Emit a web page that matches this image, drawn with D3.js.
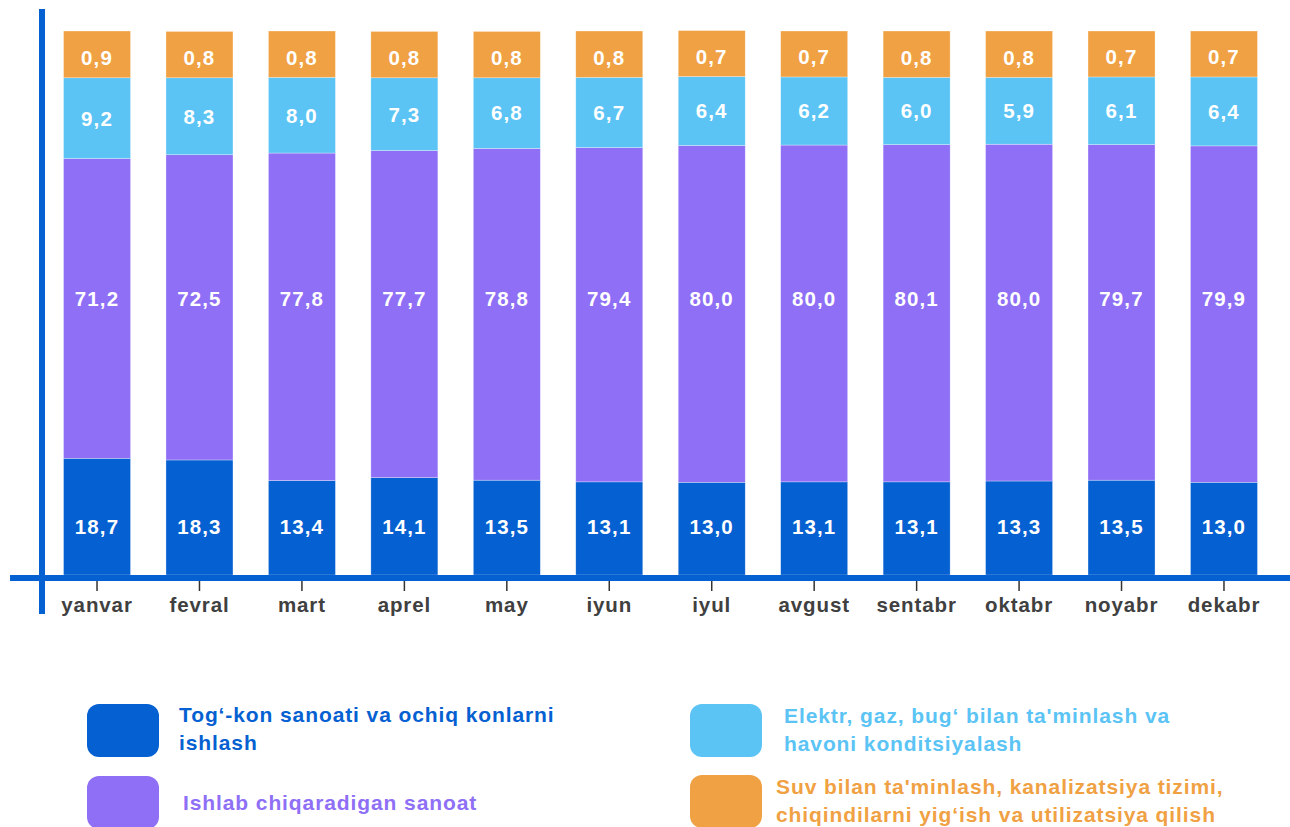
<!DOCTYPE html>
<html>
<head>
<meta charset="utf-8">
<script src="https://cdn.jsdelivr.net/npm/d3@7"></script>
<style>
  html, body { margin: 0; padding: 0; background: #ffffff; }
  svg { display: block; font-family: Arial, "Liberation Sans", sans-serif; }
</style>
</head>
<body>
<svg id="chart" width="1290" height="827"></svg>
<script>
// ---- DATA ----
const months = ["yanvar","fevral","mart","aprel","may","iyun","iyul","avgust","sentabr","oktabr","noyabr","dekabr"];
const mining = [18.7,18.3,13.4,14.1,13.5,13.1,13.0,13.1,13.1,13.3,13.5,13.0];
const manufacturing = [71.2,72.5,77.8,77.7,78.8,79.4,80.0,80.0,80.1,80.0,79.7,79.9];
const electricity = [9.2,8.3,8.0,7.3,6.8,6.7,6.4,6.2,6.0,5.9,6.1,6.4];
const water = [0.9,0.8,0.8,0.8,0.8,0.8,0.7,0.7,0.8,0.8,0.7,0.7];
const seriesNames = [
  ["Tog‘-kon sanoati va ochiq konlarni","ishlash"],
  ["Ishlab chiqaradigan sanoat"],
  ["Elektr, gaz, bug‘ bilan ta'minlash va","havoni konditsiyalash"],
  ["Suv bilan ta'minlash, kanalizatsiya tizimi,","chiqindilarni yig‘ish va utilizatsiya qilish"]
];

// ---- STYLE ----
const colors = ["#0560d1", "#8e6ff5", "#5bc4f5", "#f0a143"];
const seriesValues = [mining, manufacturing, electricity, water];
// small segments get a fixed extra band so their labels fit (as in the reference)
const segPad = [38, 0, 42, 43];
// label placement: "row" = one common row per series (mean of segment centres), "center" = segment centre
const labelMode = ["row", "row", "center", "center"];
const labelShift = [0, -14, 0, 3];

const svg = d3.select("#chart");
const baseY = 575, topY = 31;

const x = d3.scaleBand().domain(months).range([45.8, 1275.2]).paddingInner(0.346).paddingOuter(0.173);
const padTotal = segPad.reduce((a,b)=>a+b,0);
const h = d3.scaleLinear().domain([0, 100]).range([0, (baseY - topY) - padTotal]);

// build stacked segments
const segs = [];
months.forEach((m, i) => {
  let y = baseY;
  seriesValues.forEach((vals, s) => {
    const hh = h(vals[i]) + segPad[s];
    segs.push({ m, s, v: vals[i], y0: y - hh, y1: y });
    y -= hh;
  });
});
const rowY = seriesValues.map((v, s) => d3.mean(segs.filter(d => d.s === s), d => (d.y0 + d.y1) / 2));

svg.append("g").selectAll("rect").data(segs).join("rect")
  .attr("x", d => x(d.m))
  .attr("width", x.bandwidth())
  .attr("y", d => d.y0)
  .attr("height", d => d.y1 - d.y0)
  .attr("fill", d => colors[d.s])
  .attr("stroke", "rgba(255,255,255,0.5)")
  .attr("stroke-width", 0.6);

svg.append("g").selectAll("text").data(segs).join("text")
  .attr("x", d => x(d.m) + x.bandwidth() / 2)
  .attr("y", d => (labelMode[d.s] === "row" ? rowY[d.s] : (d.y0 + d.y1) / 2) + labelShift[d.s])
  .attr("dy", "0.36em")
  .attr("text-anchor", "middle")
  .attr("fill", "#ffffff")
  .attr("font-weight", "bold")
  .attr("font-size", 20.5)
  .attr("letter-spacing", 1.1)
  .text(d => d3.format(".1f")(d.v).replace(".", ","));

// axes lines
svg.append("line").attr("x1", 10).attr("x2", 1290).attr("y1", 578).attr("y2", 578)
  .attr("stroke", "#0560d1").attr("stroke-width", 6);
svg.append("line").attr("x1", 42).attr("x2", 42).attr("y1", 9).attr("y2", 614)
  .attr("stroke", "#0560d1").attr("stroke-width", 6);

// x axis ticks + labels
const xAxis = svg.append("g").attr("transform", "translate(0,581)")
  .call(d3.axisBottom(x).tickSizeInner(10).tickSizeOuter(0).tickPadding(6));
xAxis.select(".domain").remove();
xAxis.selectAll(".tick line").attr("stroke", "#333").attr("stroke-width", 1.5);
xAxis.selectAll(".tick text")
  .attr("font-family", "Arial, Liberation Sans, sans-serif")
  .attr("font-size", 20.5).attr("font-weight", "bold").attr("fill", "#404040")
  .attr("letter-spacing", 0.9);

// legend
const legendPos = [
  { rx: 87, ry: 704, tx: 179, ty: 722 },
  { rx: 87, ry: 776, tx: 183, ty: 810 },
  { rx: 690, ry: 704, tx: 784, ty: 723 },
  { rx: 690, ry: 775, tx: 776, ty: 794 }
];
const lg = svg.append("g").selectAll("g").data(seriesNames).join("g");
lg.append("rect")
  .attr("x", (d, i) => legendPos[i].rx).attr("y", (d, i) => legendPos[i].ry)
  .attr("width", 72).attr("height", 53).attr("rx", 12)
  .attr("fill", (d, i) => colors[i]);
lg.append("text")
  .attr("font-size", 21).attr("font-weight", "bold")
  .attr("letter-spacing", 0.9)
  .attr("fill", (d, i) => colors[i])
  .each(function(d, i) {
    d3.select(this).selectAll("tspan").data(d).join("tspan")
      .attr("x", legendPos[i].tx)
      .attr("y", (t, j) => legendPos[i].ty + j * 27.5)
      .text(t => t);
  });
</script>
</body>
</html>
